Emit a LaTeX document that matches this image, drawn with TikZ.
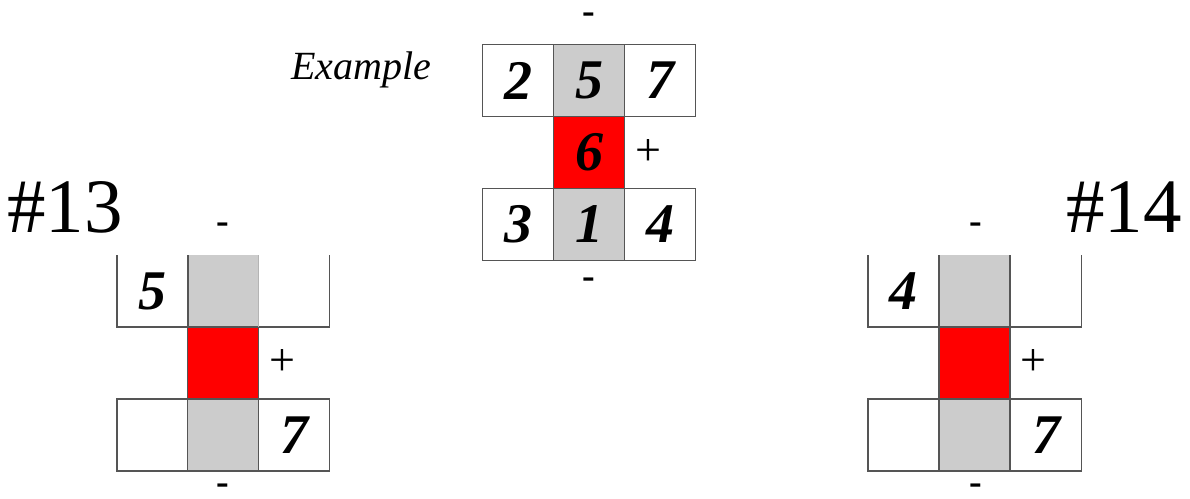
\documentclass[tikz,border=0pt]{standalone}
\usepackage{fontspec}
\setmainfont{Liberation Serif}
\definecolor{linegray}{HTML}{555555}
\definecolor{cellgray}{HTML}{CCCCCC}
\definecolor{cellred}{HTML}{FF0000}
\begin{document}
\begin{tikzpicture}[x=1pt,y=-1pt,
  cell/.style={minimum width=71pt,minimum height=72pt,inner sep=0pt,outer sep=0pt,
    draw=linegray,line width=1.1pt,font=\fontsize{56}{56}\selectfont\bfseries\itshape},
  opencell/.style={cell,draw=none},
  grayfill/.style={fill=cellgray},
  redfill/.style={fill=cellred},
  sign/.style={inner sep=0pt,font=\fontsize{46}{46}\selectfont},
  minus/.style={sign,font=\fontsize{38}{38}\selectfont\bfseries},
  title/.style={inner sep=0pt,font=\fontsize{77}{77}\selectfont},
  edge/.style={draw=linegray,line width=1.1pt}]
\useasboundingbox (0,0) rectangle (1190,498);
% Example
\node[inner sep=0pt,font=\fontsize{40}{40}\selectfont\itshape] (ex) at (361,70) {Example};
\node[cell] (e11) at (518,80.5) {2};
\node[cell,grayfill] (e12) at (589,80.5) {5};
\node[cell] (e13) at (660,80.5) {7};
\node[cell,redfill] (e22) at (589,152.5) {6};
\node[cell] (e31) at (518,224.5) {3};
\node[cell,grayfill] (e32) at (589,224.5) {1};
\node[cell] (e33) at (660,224.5) {4};
\node[minus] (em1) at (589,18) {-};
\node[minus] (em2) at (589,283) {-};
\node[sign] (ep) at (648,153) {+};
% #13
\node[title] (t13) at (65,207) {\#13};
\node[opencell] (a11) at (152.5,291) {5};
\node[opencell,grayfill] (a12) at (223,291) {};
\node[opencell] (a13) at (294,291) {};
\node[cell,redfill] (a22) at (223,363) {};
\node[cell] (a31) at (152.5,435) {};
\node[cell,grayfill] (a32) at (223,435) {};
\node[cell] (a33) at (294,435) {7};
\draw[edge] (a11.north west) -- (a11.south west) -- (a13.south east) -- (a13.north east);
\draw[edge] (a11.north east) -- (a11.south east);
\draw[edge,draw=cellgray!80!linegray] (a12.north east) -- (a12.south east);
\node[minus] (am1) at (223,228) {-};
\node[minus] (am2) at (223,489) {-};
\node[sign] (ap) at (282,362) {+};
% #14
\node[title] (t14) at (1124,207) {\#14};
\node[opencell] (b11) at (903.5,291) {4};
\node[opencell,grayfill] (b12) at (974.5,291) {};
\node[opencell] (b13) at (1046,291) {};
\node[cell,redfill] (b22) at (974.5,363) {};
\node[cell] (b31) at (903.5,435) {};
\node[cell,grayfill] (b32) at (974.5,435) {};
\node[cell] (b33) at (1046,435) {7};
\draw[edge] (b11.north west) -- (b11.south west) -- (b13.south east) -- (b13.north east);
\draw[edge] (b11.north east) -- (b11.south east);
\draw[edge] (b12.north east) -- (b12.south east);
\node[minus] (bm1) at (976,228) {-};
\node[minus] (bm2) at (976,489) {-};
\node[sign] (bp) at (1033,362) {+};
\end{tikzpicture}
\end{document}
